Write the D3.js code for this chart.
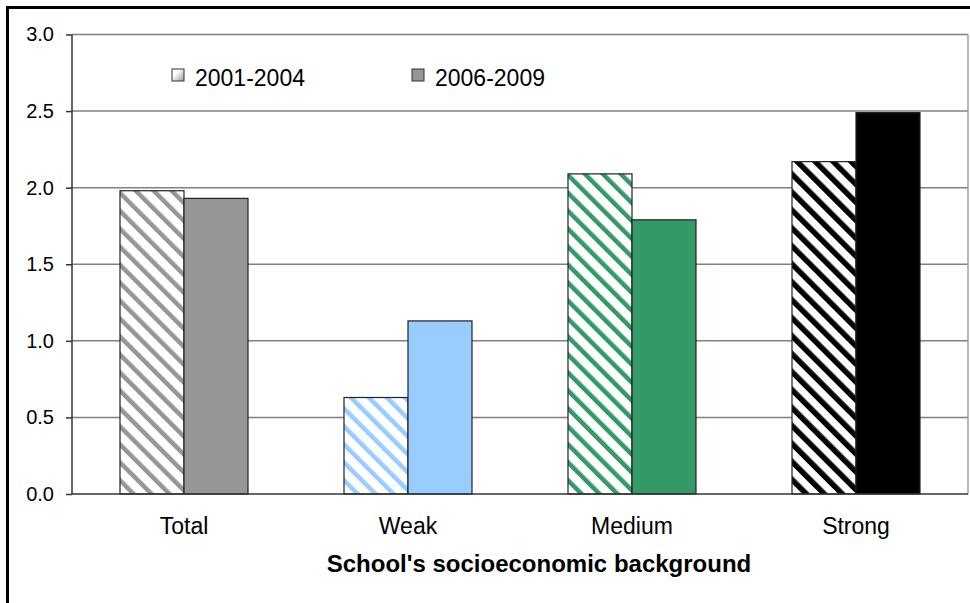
<!DOCTYPE html>
<html>
<head>
<meta charset="utf-8">
<script src="https://cdn.jsdelivr.net/npm/d3@7"></script>
<style>
    body { margin: 0; background: #fff; }
    svg { display: block; font-family: Arial, "Liberation Sans", sans-serif; }
</style>
</head>
<body>
<div id="chart"></div>
<script>
// data
var categories = ["Total", "Weak", "Medium", "Strong"];
var series = ["2001-2004", "2006-2009"];
var values2001 = [1.98, 0.63, 2.09, 2.17];
var values2006 = [1.93, 1.13, 1.79, 2.49];
var colors = ["#969696", "#99ccff", "#339966", "#000000"];
var yTicks = [0, 0.5, 1.0, 1.5, 2.0, 2.5, 3.0];
var xTitle = "School's socioeconomic background";

var width = 970,
    height = 603,
    margin = { left: 72, right: 2, top: 34.5, bottom: 109 };

var plotW = width - margin.left - margin.right,
    plotH = height - margin.top - margin.bottom;

function translate(xDelta, yDelta){
    return "translate(" + xDelta + "," + yDelta + ")";
}

var svg = d3.select("#chart")
    .append("svg")
    .attr("width", width)
    .attr("height", height);

// outer chart border, runs off the right and bottom edge
svg.append("rect")
    .attr("x", 7.5).attr("y", 7.5)
    .attr("width", 1100).attr("height", 1100)
    .attr("fill", "none")
    .attr("stroke", "#000")
    .attr("stroke-width", 3);

// hatch patterns, one per category colour
var defs = svg.append("defs");
colors.forEach(function(c, i){
    var p = defs.append("pattern")
        .attr("id", "hatch" + i)
        .attr("patternUnits", "userSpaceOnUse")
        .attr("width", 12.7)
        .attr("height", 12.7)
        .attr("patternTransform", "rotate(-45)");
    p.append("rect").attr("width", 12.7).attr("height", 12.7).attr("fill", "#fff");
    p.append("rect").attr("x", 0).attr("width", i == 3 ? 5.5 : 4.5).attr("height", 12.7).attr("fill", c);
});

var grad = defs.append("linearGradient")
    .attr("id", "legendGrad")
    .attr("x1", "0%").attr("y1", "0%")
    .attr("x2", "100%").attr("y2", "100%");
grad.append("stop").attr("offset", "35%").attr("stop-color", "#fff");
grad.append("stop").attr("offset", "100%").attr("stop-color", "#969696");

var g = svg.append("g").attr("transform", translate(margin.left, margin.top));

var x0 = d3.scaleBand()
    .domain(categories)
    .range([0, plotW])
    .paddingInner(0.4286)
    .paddingOuter(0.2143);

var x1 = d3.scaleBand()
    .domain(series)
    .range([0, x0.bandwidth()]);

var yScale = d3.scaleLinear()
    .domain([0, 3])
    .range([plotH, 0]);

// gridlines
g.selectAll(".grid")
    .data(yTicks.filter(function(d){ return d > 0; }))
    .enter()
    .append("line")
    .attr("class", "grid")
    .attr("x1", 0).attr("x2", plotW)
    .attr("y1", function(d){ return yScale(d); })
    .attr("y2", function(d){ return yScale(d); })
    .attr("stroke", "#808080")
    .attr("stroke-width", 1.5);

// right border of plot area
g.append("line")
    .attr("x1", plotW).attr("x2", plotW)
    .attr("y1", 0).attr("y2", plotH)
    .attr("stroke", "#a0a0a0")
    .attr("stroke-width", 1.5);

var rows = categories.map(function(c, i){
    return { cat: c, i: i, vals: [values2001[i], values2006[i]] };
});

var groups = g.selectAll(".cat")
    .data(rows)
    .enter()
    .append("g")
    .attr("class", "cat")
    .attr("transform", function(d){ return translate(x0(d.cat), 0); });

groups.selectAll("rect")
    .data(function(d){
        return d.vals.map(function(v, k){ return { s: series[k], v: v, i: d.i, k: k }; });
    })
    .enter()
    .append("rect")
    .attr("x", function(d){ return x1(d.s); })
    .attr("y", function(d){ return yScale(d.v); })
    .attr("width", x1.bandwidth())
    .attr("height", function(d){ return plotH - yScale(d.v); })
    .attr("fill", function(d){ return d.k == 0 ? "url(#hatch" + d.i + ")" : colors[d.i]; })
    .attr("stroke", "#222")
    .attr("stroke-width", 1.2);

// y axis
var yAxis = d3.axisLeft(yScale)
    .tickValues(yTicks)
    .tickSize(6)
    .tickPadding(12)
    .tickFormat(d3.format(".1f"));

var ya = g.append("g").attr("class", "y-axis").call(yAxis);
ya.select(".domain").attr("stroke", "#333").attr("stroke-width", 1.5).attr("d", "M0,0V" + plotH);
ya.selectAll(".tick line").attr("stroke", "#333").attr("stroke-width", 1.5);
ya.selectAll("text").attr("font-size", 20).attr("fill", "#000").attr("font-family", "Arial, 'Liberation Sans', sans-serif");

// x axis
var xAxis = d3.axisBottom(x0).tickSize(0).tickPadding(24);
var xa = g.append("g").attr("class", "x-axis")
    .attr("transform", translate(0, plotH))
    .call(xAxis);
xa.select(".domain").attr("stroke", "#333").attr("stroke-width", 1.5).attr("d", "M0,0H" + plotW);
xa.selectAll("text").attr("font-size", 23).attr("fill", "#000").attr("font-family", "Arial, 'Liberation Sans', sans-serif");

svg.append("text")
    .attr("x", 539)
    .attr("y", 572)
    .attr("text-anchor", "middle")
    .attr("font-size", 24)
    .attr("font-weight", "bold")
    .text(xTitle);

// legend
var legendX = [172, 412];
var legend = svg.selectAll(".legend")
    .data(series)
    .enter()
    .append("g")
    .attr("class", "legend")
    .attr("transform", function(d, i){ return translate(legendX[i], 69); });

legend.append("rect")
    .attr("width", 12).attr("height", 12)
    .attr("fill", function(d, i){ return i == 0 ? "url(#legendGrad)" : colors[0]; })
    .attr("stroke", "#333")
    .attr("stroke-width", 1);

legend.append("text")
    .attr("x", 23)
    .attr("y", 16.5)
    .attr("font-size", 23)
    .text(function(d){ return d; });
</script>
</body>
</html>
